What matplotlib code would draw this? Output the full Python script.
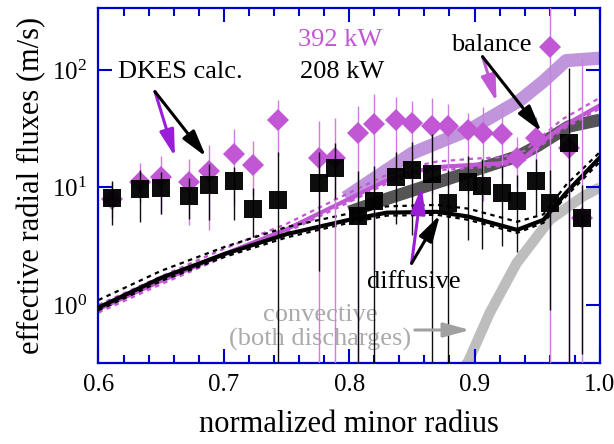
import matplotlib
matplotlib.use("Agg")
import matplotlib.pyplot as plt
import numpy as np

plt.rcParams["font.family"] = ["Liberation Serif", "DejaVu Serif"]
plt.rcParams["mathtext.fontset"] = "stix"

# DKES calculated fluxes, 392 kW (magenta diamonds)
r_392 = [0.611, 0.633, 0.650, 0.672, 0.688, 0.708, 0.723, 0.743, 0.776, 0.789,
         0.807, 0.820, 0.837, 0.850, 0.866, 0.879, 0.895, 0.907, 0.922, 0.9335,
         0.949, 0.960, 0.975, 0.986]
v_392 = [8.0, 11.2, 12.2, 11.2, 13.8, 19.2, 15.5, 37.5, 17.7, 17.7,
         29.3, 34.5, 37.5, 35.2, 33.4, 33.4, 30.8, 28.9, 28.5, 17.7,
         26.2, 158, 21.6, 5.5]
lo_392 = [5.5, 7.5, 5.9, 4.8, 4.3, 7.0, 8.5, 18.6, 0.1, 0.1,
          0.1, 2.0, 12.0, 10.0, 9.0, 10.0, 9.0, 7.7, 12.0, 10.0,
          14.0, 0.1, 0.1, 0.1]
hi_392 = [11.2, 16.3, 18.5, 17.6, 23.1, 31.5, 25.0, 56.0, 37.0, 38.8,
          49.6, 62.5, 58.6, 54.7, 57.5, 51.4, 43.4, 48.6, 47.3, 27.0,
          40.0, 1000, 44.0, 126]

# DKES calculated fluxes, 208 kW (black squares)
r_208 = [0.611, 0.633, 0.650, 0.672, 0.688, 0.708, 0.723, 0.743, 0.776, 0.789,
         0.807, 0.820, 0.837, 0.850, 0.866, 0.879, 0.895, 0.906, 0.922, 0.9335,
         0.949, 0.960, 0.975, 0.986]
v_208 = [8.2, 9.7, 9.8, 8.5, 10.4, 11.4, 6.5, 7.8, 11.0, 14.7,
         5.75, 7.7, 12.3, 14.1, 13.0, 7.3, 11.2, 10.2, 9.0, 7.7,
         11.4, 7.4, 23.8, 5.5]
lo_208 = [4.8, 5.1, 5.9, 5.4, 5.3, 5.3, 3.8, 0.1, 1.96, 8.0,
          0.1, 0.1, 4.9, 3.9, 0.1, 0.1, 3.6, 3.0, 3.2, 2.8,
          5.8, 0.91, 0.1, 0.38]
hi_208 = [11.4, 14.1, 13.5, 12.0, 15.8, 15.0, 9.8, 19.9, 20.0, 23.8,
          13.8, 15.3, 20.0, 24.2, 28.4, 14.0, 18.6, 17.4, 15.1, 12.8,
          17.4, 14.1, 103, 10.5]

# diffusive fluxes
r_dif_208 = [0.6, 0.65, 0.7, 0.75, 0.8, 0.83, 0.87, 0.895, 0.934, 0.955, 0.973, 1.0]
dif_208 = [0.95, 1.7, 2.7, 4.0, 5.3, 6.1, 6.2, 5.65, 4.35, 5.3, 9.0, 18.0]
dif_208_up = [1.1, 1.95, 3.1, 4.6, 6.0, 6.9, 7.1, 6.6, 5.1, 5.9, 10.5, 20.0]
dif_208_dn = [0.9, 1.6, 2.55, 3.75, 5.0, 5.75, 5.85, 5.3, 4.1, 5.0, 8.4, 16.5]

r_dif_392 = [0.6, 0.65, 0.7, 0.75, 0.8, 0.83, 0.85, 0.87, 0.9, 0.92, 0.94, 0.955, 0.97, 1.0]
dif_392 = [0.92, 1.6, 2.7, 4.4, 8.0, 11.5, 13.5, 14.9, 15.6, 16.0, 18.0, 25.0, 33.0, 50.0]
dif_392_up = [1.0, 1.75, 3.0, 4.9, 9.0, 12.8, 15.0, 16.6, 17.6, 18.0, 20.5, 28.0, 38.0, 58.0]
dif_392_dn = [0.86, 1.5, 2.55, 4.15, 7.5, 10.8, 12.7, 14.0, 14.7, 15.2, 17.0, 23.5, 31.0, 47.0]

# balance (total) fluxes
r_bal_392 = [0.797, 0.85, 0.896, 0.936, 0.955, 0.973, 1.0]
bal_392 = [8.2, 19.5, 31.0, 55.0, 80.0, 120.0, 126.0]
r_bal_208 = [0.80, 0.83, 0.87, 0.90, 0.935, 0.95, 0.975, 1.0]
bal_208 = [6.2, 8.0, 11.0, 14.0, 18.5, 22.5, 33.0, 37.6]

# convective (both discharges)
r_conv = [0.888, 0.895, 0.912, 0.9335, 0.96, 0.9866, 1.0]
conv = [0.26, 0.33, 0.85, 2.26, 5.3, 8.4, 10.0]

MAG = "#c257d6"
MAG_BAR = "#c97ee0"
PURPLE = "#9a1ed6"
BLUE = "#0000cc"

fig = plt.figure(figsize=(6.14, 4.44), dpi=100)
ax = fig.add_axes([0.1604, 0.1824, 0.8166, 0.7996])

# thick bands
ax.plot(r_bal_392, bal_392, color="#b98ad8", lw=9.5, alpha=0.9, solid_capstyle="butt", zorder=1)
ax.plot(r_bal_208, bal_208, color="#555555", lw=9.0, solid_capstyle="butt", zorder=1)
ax.plot(r_conv, conv, color="#bdbdbd", lw=7.5, solid_capstyle="butt", zorder=1)

# diffusive lines
ax.plot(r_dif_392, dif_392_up, color=MAG, lw=1.6, ls=(0, (2, 2)), zorder=2)
ax.plot(r_dif_392, dif_392_dn, color=MAG, lw=1.6, ls=(0, (2, 2)), zorder=2)
ax.plot(r_dif_392, dif_392, color=MAG, lw=3.0, zorder=2)
ax.plot(r_dif_208, dif_208_up, color="black", lw=1.6, ls=(0, (2, 2)), zorder=3)
ax.plot(r_dif_208, dif_208_dn, color="black", lw=1.6, ls=(0, (2, 2)), zorder=3)
ax.plot(r_dif_208, dif_208, color="black", lw=3.0, zorder=3)

# DKES points with error bars
v = np.array(v_392)
err = [v - np.array(lo_392), np.array(hi_392) - v]
ax.errorbar(r_392, v_392, yerr=err, fmt="D", ms=11, color=MAG, ecolor=MAG_BAR,
            elinewidth=1.0, capsize=7, capthick=1.0, mew=0, zorder=4)
v = np.array(v_208)
err = [v - np.array(lo_208), np.array(hi_208) - v]
ax.errorbar(r_208, v_208, yerr=err, fmt="s", ms=12.5, color="black", ecolor="black",
            elinewidth=1.0, capsize=7, capthick=1.0, mew=0, zorder=5, alpha=0.95)

ax.set_yscale("log")
ax.set_xlim(0.6, 1.0)
ax.set_ylim(0.32, 337)
ax.set_xticks([0.6, 0.7, 0.8, 0.9, 1.0])
ax.set_xticklabels(["0.6", "0.7", "0.8", "0.9", "1.0"])
ax.set_xticks(np.arange(0.62, 1.0, 0.02), minor=True)
ax.yaxis.set_minor_locator(matplotlib.ticker.NullLocator())
ax.tick_params(which="both", direction="in", top=True, right=True, color=BLUE,
               labelsize=18, pad=8)
ax.tick_params(which="major", length=10, width=1.5)
ax.tick_params(which="minor", length=6, width=1.5)
for s in ax.spines.values():
    s.set_color(BLUE)
    s.set_linewidth(1.6)

ax.set_xlabel("normalized minor radius", fontsize=22, labelpad=10)
ax.set_ylabel("effective radial fluxes (m/s)", fontsize=22, labelpad=4)

# labels and arrows
T = ax.transAxes
ax.text(0.039, 0.82, "DKES calc.", transform=T, fontsize=19, va="center", ha="left")
ax.text(0.566, 0.91, "392 kW", transform=T, fontsize=19, va="center", ha="right", color=MAG)
ax.text(0.569, 0.82, "208 kW", transform=T, fontsize=19, va="center", ha="right")
ax.text(0.783, 0.896, "balance", transform=T, fontsize=19, va="center", ha="center")
ax.text(0.629, 0.228, "diffusive", transform=T, fontsize=19, va="center", ha="center")
ax.text(0.4417, 0.135, "convective", transform=T, fontsize=19, va="center", ha="center",
        color="#aaaaaa")
ax.text(0.4417, 0.065, "(both discharges)", transform=T, fontsize=19, va="center",
        ha="center", color="#aaaaaa")

arrow = "-|>,head_length=0.8,head_width=0.22"


def arr(start, end, color):
    ax.annotate("", xy=end, xytext=start, xycoords=T, textcoords=T,
                arrowprops=dict(arrowstyle=arrow, color=color, lw=2.2,
                                shrinkA=0, shrinkB=0, mutation_scale=20), zorder=6)


arr((0.1126, 0.7645), (0.1525, 0.5812), PURPLE)
arr((0.1126, 0.7645), (0.2144, 0.5812), "black")
arr((0.766, 0.8628), (0.794, 0.736), MAG)
arr((0.766, 0.8628), (0.8837, 0.6515), "black")
arr((0.6245, 0.2808), (0.6445, 0.4966), PURPLE)
arr((0.6245, 0.2808), (0.681, 0.4169), "black")
arr((0.631, 0.093), (0.741, 0.093), "#a0a0a0")

fig.savefig("out.png", dpi=100)
